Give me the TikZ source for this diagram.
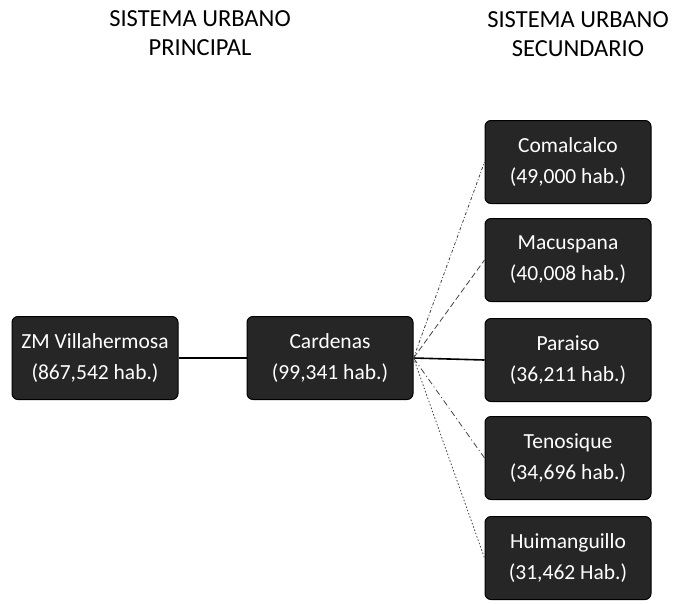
\documentclass[tikz,border=0pt]{standalone}
\usepackage{fontspec}
\setmainfont{Carlito}
\definecolor{boxfill}{HTML}{262626}
\definecolor{linegray}{HTML}{444444}
\begin{document}
\begin{tikzpicture}[x=1pt,y=-1pt,
  cbox/.style={draw=black, line width=1pt, fill=boxfill, rounded corners=6pt,
    minimum width=166pt, minimum height=83pt, inner sep=0pt,
    text=white, font=\fontsize{21.5}{31}\selectfont, align=center},
  head/.style={font=\fontsize{24.5}{29}\selectfont, align=center, inner sep=0pt},
  link/.style={draw=linegray, line width=0.8pt},
  mainlink/.style={draw=black, line width=1.6pt}
]
\useasboundingbox (0,0) rectangle (675,603);
\node[head] (h1) at (200,33) {SISTEMA URBANO\\PRINCIPAL};
\node[head] (h2) at (578,34) {SISTEMA URBANO\\SECUNDARIO};

\node[cbox] (zm) at (95,358) {ZM Villahermosa\\(867,542 hab.)};
\node[cbox] (car) at (330,358) {Cardenas\\(99,341 hab.)};

\node[cbox] (com) at (568,162) {Comalcalco\\(49,000 hab.)};
\node[cbox] (mac) at (568,260) {Macuspana\\(40,008 hab.)};
\node[cbox] (par) at (568,360) {Paraiso\\(36,211 hab.)};
\node[cbox] (ten) at (568,458) {Tenosique\\(34,696 hab.)};
\node[cbox] (hui) at (568,558) {Huimanguillo\\(31,462 Hab.)};

\draw[mainlink] (zm.east) -- (car.west);
\draw[mainlink] (car.east) -- (par.west);
\draw[link, dash pattern=on 3pt off 2pt on 1pt off 2pt] (car.east) -- (com.west);
\draw[link, dash pattern=on 6pt off 3pt] (car.east) -- (mac.west);
\draw[link, dash pattern=on 6pt off 3pt on 1pt off 3pt] (car.east) -- (ten.west);
\draw[link, dash pattern=on 1.5pt off 2pt] (car.east) -- (hui.west);
\end{tikzpicture}
\end{document}
